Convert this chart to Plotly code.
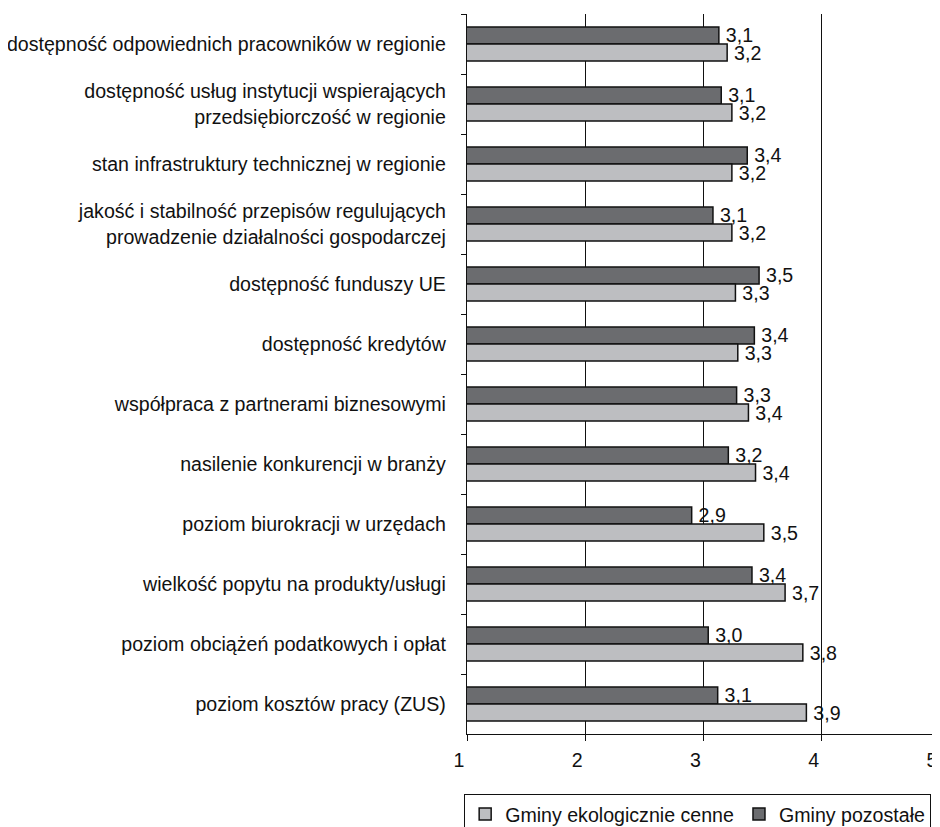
import plotly.graph_objects as go

categories = [
    "dostępność odpowiednich pracowników w regionie",
    "dostępność usług instytucji wspierających<br>przedsiębiorczość w regionie",
    "stan infrastruktury technicznej w regionie",
    "jakość i stabilność przepisów regulujących<br>prowadzenie działalności gospodarczej",
    "dostępność funduszy UE",
    "dostępność kredytów",
    "współpraca z partnerami biznesowymi",
    "nasilenie konkurencji w branży",
    "poziom biurokracji w urzędach",
    "wielkość popytu na produkty/usługi",
    "poziom obciążeń podatkowych i opłat",
    "poziom kosztów pracy (ZUS)",
]

gminy_eko = [3.20, 3.24, 3.24, 3.24, 3.27, 3.29, 3.38, 3.44, 3.51, 3.69, 3.84, 3.87]
gminy_poz = [3.13, 3.15, 3.37, 3.08, 3.47, 3.43, 3.28, 3.21, 2.90, 3.41, 3.04, 3.12]

x_ticks = [1, 2, 3, 4, 5]

FONT = "Liberation Sans, Arial, sans-serif"
FS = 19.6
INK = "#111111"


def fmt(v):
    return "\u2009" + f"{v:.1f}".replace(".", ",")


fig = go.Figure()
fig.add_trace(go.Bar(
    y=categories, x=gminy_poz, base=0, orientation="h",
    name="Gminy pozostałe",
    marker=dict(color="#6b6c6f", line=dict(color=INK, width=1.5)),
    text=[fmt(v) for v in gminy_poz], textposition="outside",
    constraintext="none",
    textfont=dict(family=FONT, size=FS, color=INK),
    cliponaxis=False,
))
fig.add_trace(go.Bar(
    y=categories, x=gminy_eko, base=0, orientation="h",
    name="Gminy ekologicznie cenne",
    marker=dict(color="#bdbec1", line=dict(color=INK, width=1.5)),
    text=[fmt(v) for v in gminy_eko], textposition="outside",
    constraintext="none",
    textfont=dict(family=FONT, size=FS, color=INK),
    cliponaxis=False,
))

fig.update_layout(
    width=932, height=819,
    margin=dict(l=459, r=0, t=6, b=93, autoexpand=False),
    paper_bgcolor="white", plot_bgcolor="white",
    font=dict(family=FONT, size=FS, color=INK),
    barmode="group", bargap=0.43, bargroupgap=0,
    showlegend=True,
    legend=dict(
        orientation="h", traceorder="reversed",
        x=-0.006, xanchor="left", y=-0.083, yanchor="top",
        bordercolor=INK, borderwidth=1,
        font=dict(family=FONT, size=FS, color=INK),
        itemwidth=30,
    ),
    xaxis=dict(
        range=[1, 5], tickvals=x_ticks, ticktext=[str(t) for t in x_ticks],
        showgrid=True, gridcolor=INK, gridwidth=1.4,
        showline=True, linecolor=INK, linewidth=1.4,
        ticks="outside", ticklen=6, tickcolor=INK, tickwidth=1.4,
        zeroline=False, ticklabelshift=-8, ticklabelstandoff=2,
        tickfont=dict(family=FONT, size=FS, color=INK),
    ),
    yaxis=dict(
        autorange="reversed", type="category",
        showline=True, linecolor=INK, linewidth=1.4,
        ticks="outside", ticklen=5, tickcolor=INK, tickwidth=1.4,
        tickson="boundaries", showgrid=False,
        ticklabelstandoff=16,
        tickfont=dict(family=FONT, size=FS, color=INK),
    ),
)

fig.write_html("out.html")
